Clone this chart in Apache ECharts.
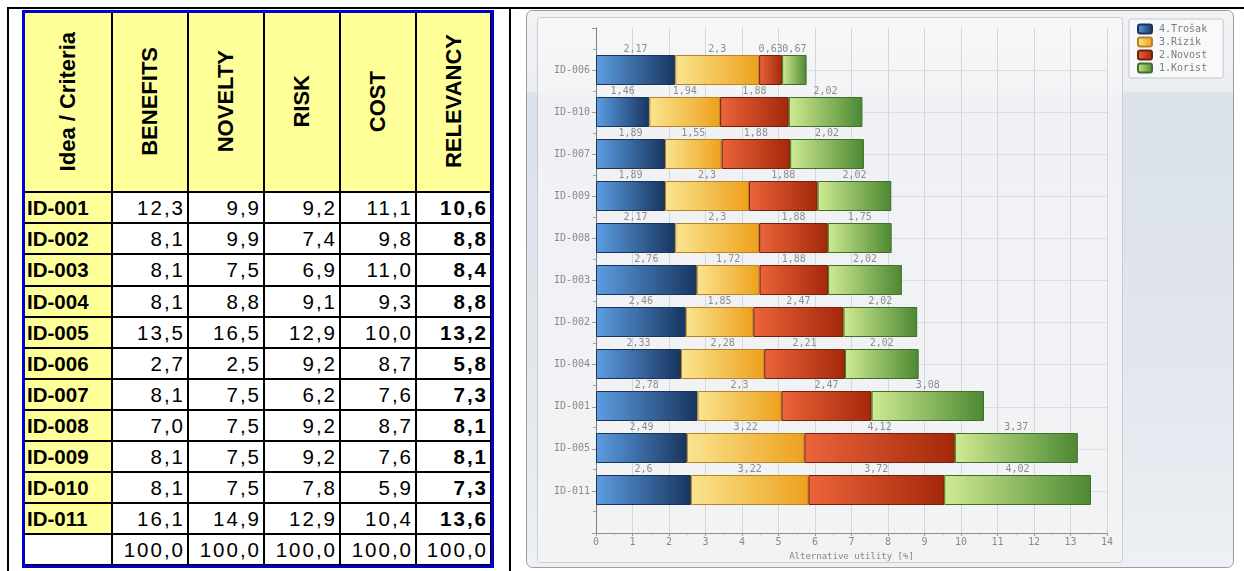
<!DOCTYPE html>
<html>
<head>
<meta charset="utf-8">
<title>Alternative utility</title>
<script src="https://cdn.jsdelivr.net/npm/echarts@6/dist/echarts.min.js"></script>
<style>
  html, body { margin: 0; padding: 0; background: #fff; width: 1244px; height: 571px; overflow: hidden; }
  #chart { position: absolute; left: 0; top: 0; width: 1244px; height: 571px; }
  #sheet { position: absolute; left: 0; top: 0; width: 520px; height: 571px; z-index: 2; }
  .rule { position: absolute; background: #000; }
  .cell { position: absolute; box-sizing: border-box; border-right: 2px solid #000; border-bottom: 2px solid #000;
          display: flex; align-items: center; font-family: "Liberation Sans", Arial, sans-serif; color: #000; }
  .hdr { background: #ffff99; justify-content: center; }
  .hdr span { writing-mode: vertical-rl; transform: rotate(180deg); font-weight: bold; font-size: 22px; white-space: nowrap; }
  .id { background: #ffff99; justify-content: flex-start; padding-left: 3px; font-weight: bold; font-size: 20.5px; }
  .num { background: #fff; justify-content: flex-end; padding-right: 2px; font-size: 20.5px; letter-spacing: 2px; }
  .num.rel { font-weight: bold; }
  .blank { background: #fff; }
  #blueframe { position: absolute; box-sizing: border-box; border: 3px solid #0000cc; pointer-events: none; }
</style>
</head>
<body>
<div id="chart"></div>
<div id="sheet"></div>
<script>
// ---- Criteria table ----
const headerLabels = ['Idea / Criteria', 'BENEFITS', 'NOVELTY', 'RISK', 'COST', 'RELEVANCY'];
const tableIds  = ['ID-001', 'ID-002', 'ID-003', 'ID-004', 'ID-005', 'ID-006', 'ID-007', 'ID-008', 'ID-009', 'ID-010', 'ID-011'];
const benefits  = [12.3, 8.1, 8.1, 8.1, 13.5, 2.7, 8.1, 7.0, 8.1, 8.1, 16.1];
const novelty   = [9.9, 9.9, 7.5, 8.8, 16.5, 2.5, 7.5, 7.5, 7.5, 7.5, 14.9];
const risk      = [9.2, 7.4, 6.9, 9.1, 12.9, 9.2, 6.2, 9.2, 9.2, 7.8, 12.9];
const cost      = [11.1, 9.8, 11.0, 9.3, 10.0, 8.7, 7.6, 8.7, 7.6, 5.9, 10.4];
const relevancy = [10.6, 8.8, 8.4, 8.8, 13.2, 5.8, 7.3, 8.1, 8.1, 7.3, 13.6];
const columnTotals = [100.0, 100.0, 100.0, 100.0, 100.0];

// ---- Stacked utility bars (top to bottom) ----
const chartIds = ['ID-006', 'ID-010', 'ID-007', 'ID-009', 'ID-008', 'ID-003', 'ID-002', 'ID-004', 'ID-001', 'ID-005', 'ID-011'];
const trosak   = [2.17, 1.46, 1.89, 1.89, 2.17, 2.76, 2.46, 2.33, 2.78, 2.49, 2.6];
const rizik    = [2.3, 1.94, 1.55, 2.3, 2.3, 1.72, 1.85, 2.28, 2.3, 3.22, 3.22];
const novost   = [0.63, 1.88, 1.88, 1.88, 1.88, 1.88, 2.47, 2.21, 2.47, 4.12, 3.72];
const korist   = [0.67, 2.02, 2.02, 2.02, 1.75, 2.02, 2.02, 2.02, 3.08, 3.37, 4.02];
const seriesNames = ['4.Trošak', '3.Rizik', '2.Novost', '1.Korist'];

const comma = (v, d) => (d == null ? String(v) : v.toFixed(d)).replace('.', ',');

// ---- build the table ----
(function buildSheet() {
  const sheet = document.getElementById('sheet');
  const colX = [24, 113, 189, 265, 341, 417, 492];
  const rowY = [12, 193, 224, 255, 287, 318, 349, 380, 411, 442, 473, 504, 535, 566];
  const add = (cls, x0, y0, x1, y1, html) => {
    const d = document.createElement('div');
    d.className = 'cell ' + cls;
    d.style.left = x0 + 'px'; d.style.top = y0 + 'px';
    d.style.width = (x1 - x0) + 'px'; d.style.height = (y1 - y0) + 'px';
    d.innerHTML = html;
    sheet.appendChild(d);
  };
  headerLabels.forEach((h, c) => add('hdr', colX[c], rowY[0], colX[c + 1], rowY[1], '<span>' + h + '</span>'));
  const cols = [benefits, novelty, risk, cost, relevancy];
  tableIds.forEach((id, r) => {
    add('id', colX[0], rowY[r + 1], colX[1], rowY[r + 2], id);
    cols.forEach((arr, c) => add('num' + (c === 4 ? ' rel' : ''), colX[c + 1], rowY[r + 1], colX[c + 2], rowY[r + 2], comma(arr[r], 1)));
  });
  const last = tableIds.length + 1;
  add('blank', colX[0], rowY[last], colX[1], rowY[last + 1], '');
  columnTotals.forEach((t, c) => add('num', colX[c + 1], rowY[last], colX[c + 2], rowY[last + 1], comma(t, 1)));

  const frame = document.createElement('div');
  frame.id = 'blueframe';
  frame.style.left = '22px'; frame.style.top = '10px';
  frame.style.width = (colX[6] - 22 + 2) + 'px'; frame.style.height = (rowY[13] - 10 + 2) + 'px';
  sheet.appendChild(frame);

  // page rules
  [[7, 7, 1237, 2], [7, 7, 2, 564], [509, 7, 2, 564]].forEach(([x, y, w, h]) => {
    const d = document.createElement('div');
    d.className = 'rule';
    d.style.left = x + 'px'; d.style.top = y + 'px'; d.style.width = w + 'px'; d.style.height = h + 'px';
    document.body.appendChild(d);
  });
})();

// ---- chart ----
const G = echarts.graphic.LinearGradient;
const mono = 'DejaVu Sans Mono';
const palette = [
  { from: '#5d9de2', to: '#17355f', border: '#1b355a' },
  { from: '#f9e590', to: '#eea01c', border: '#b88420' },
  { from: '#ec643a', to: '#a3280a', border: '#6e2008' },
  { from: '#d0eb92', to: '#4c8832', border: '#3f6f2a' }
];
const values = [trosak, rizik, novost, korist];

const chart = echarts.init(document.getElementById('chart'), null, { renderer: 'canvas' });

const option = {
  animation: false,
  graphic: [
    {
      type: 'rect', z: -20,
      shape: { x: 526.5, y: 10.5, width: 707, height: 557, r: 6 },
      style: {
        fill: new G(0, 0, 0, 1, [
          { offset: 0, color: '#f1f2f4' }, { offset: 0.145, color: '#eceef1' },
          { offset: 0.15, color: '#dbe1e9' }, { offset: 0.6, color: '#e1e6ed' }, { offset: 1, color: '#edf0f4' }
        ]),
        stroke: '#9c9c9c', lineWidth: 1
      }
    },
    {
      type: 'rect', z: -19,
      shape: { x: 537.5, y: 17.5, width: 585, height: 545, r: 3 },
      style: {
        fill: new G(0, 0, 0, 1, [
          { offset: 0, color: '#f6f7f8' }, { offset: 0.14, color: '#f3f4f6' },
          { offset: 0.145, color: '#eff1f4' }, { offset: 1, color: '#f2f3f5' }
        ]),
        stroke: '#c9cdd2', lineWidth: 1
      }
    }
  ],
  legend: {
    orient: 'vertical', left: 1129, top: 19,
    padding: [4, 16, 4, 8], itemGap: 1, itemWidth: 14, itemHeight: 9, icon: 'roundRect',
    backgroundColor: '#f8f9fa', borderColor: '#c3c7cc', borderWidth: 1, borderRadius: 2,
    data: seriesNames,
    textStyle: { fontFamily: mono, fontSize: 10, color: '#7a7a7a', lineHeight: 12, padding: [0, 0, 0, 2] }
  },
  grid: [
    { left: 596, top: 28, width: 511, height: 505 },
    { left: 596, top: 49, width: 511, height: 462 }
  ],
  xAxis: [
    {
      gridIndex: 0, type: 'value', min: 0, max: 14, interval: 1,
      name: 'Alternative utility [%]', nameLocation: 'middle', nameGap: 13,
      nameTextStyle: { fontFamily: mono, fontSize: 9, color: '#858585' },
      axisLine: { show: true, lineStyle: { color: '#8f8f8f' } },
      axisTick: { show: true, length: 3, lineStyle: { color: '#9a9a9a' } },
      minorTick: { show: true, splitNumber: 2, length: 2, lineStyle: { color: '#aaa' } },
      axisLabel: { fontFamily: mono, fontSize: 10, color: '#8a8a8a', margin: 4 },
      splitLine: { show: true, lineStyle: { color: '#d4d6d9', width: 1 } }
    },
    { gridIndex: 1, type: 'value', min: 0, max: 14, show: false }
  ],
  yAxis: [
    {
      gridIndex: 0, type: 'category', inverse: true, boundaryGap: false,
      data: [''].concat(chartIds, ['']),
      axisLine: { show: true, lineStyle: { color: '#7d7d7d' } },
      axisTick: { show: true, length: 4, lineStyle: { color: '#9a9a9a' } },
      axisLabel: { fontFamily: mono, fontSize: 10, color: '#8a8a8a', margin: 6 },
      splitLine: {
        show: true,
        interval: (i) => i > 0 && i <= chartIds.length,
        lineStyle: { color: '#dcdee1', width: 1 }
      }
    },
    {
      gridIndex: 1, type: 'category', inverse: true, boundaryGap: true,
      data: chartIds,
      axisLine: { show: false },
      axisLabel: { show: false },
      axisTick: { show: true, length: 3, lineStyle: { color: '#a5a5a5' } },
      splitLine: { show: false }
    }
  ],
  series: seriesNames.map((name, k) => ({
    name, type: 'bar', stack: 'utility',
    xAxisIndex: 1, yAxisIndex: 1,
    barWidth: 30,
    data: values[k],
    itemStyle: {
      color: new G(0, 0, 1, 0, [{ offset: 0, color: palette[k].from }, { offset: 1, color: palette[k].to }]),
      borderColor: palette[k].border, borderWidth: 1
    },
    label: {
      show: true, position: 'top', distance: 1,
      fontFamily: mono, fontSize: 10, color: '#8c8c8c',
      formatter: (p) => comma(p.value)
    }
  }))
};

chart.setOption(option);
</script>
</body>
</html>
